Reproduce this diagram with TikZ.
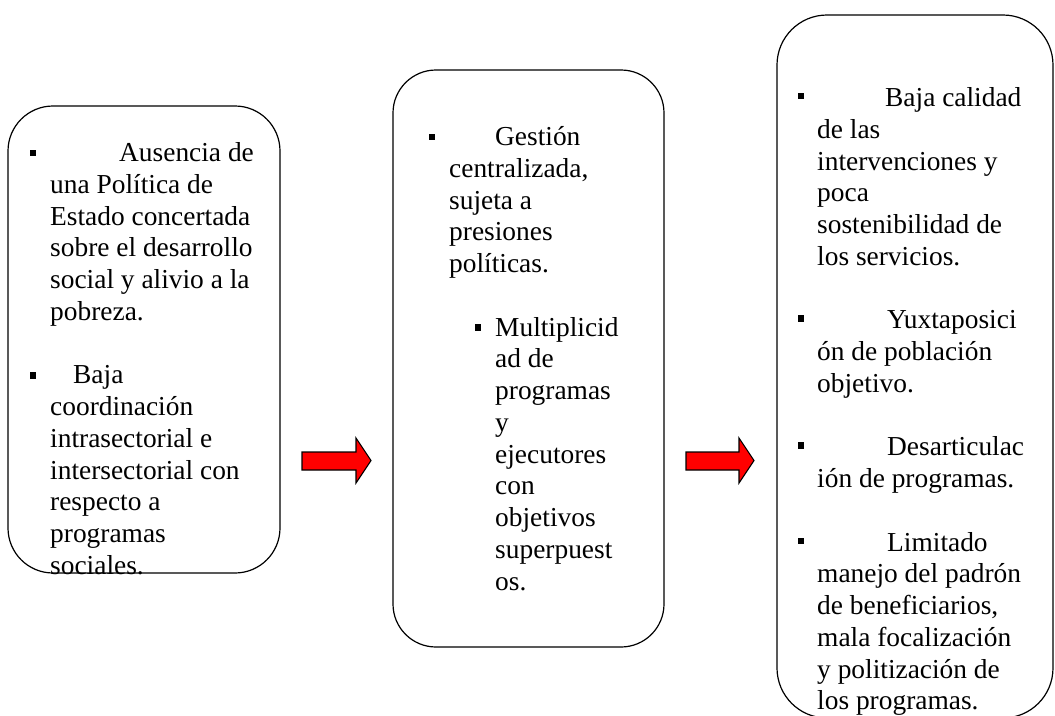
\documentclass[tikz,border=0pt]{standalone}
\usepackage{fontspec}
\setmainfont{Liberation Serif}
\tikzset{
  box/.style={draw, line width=1.2pt, rounded corners=45pt, inner sep=0pt},
  bul/.style={fill=black, inner sep=0pt, minimum size=6.5pt},
  txt/.style={anchor=base west, inner sep=0pt, font=\fontsize{27.4}{31.75}\selectfont},
  blockarrow/.style={draw, line width=1.1pt, fill=red, line join=miter}
}
\begin{document}
\begin{tikzpicture}[x=1pt,y=-1pt]
\useasboundingbox (0,0) rectangle (1055,715);
% boxes
\node[box, minimum width=272pt, minimum height=467pt] (box1) at (144,339.5) {};
\node[box, minimum width=271pt, minimum height=577pt, rounded corners=43pt] (box2) at (528.5,358.5) {};
\node[box, minimum width=276pt, minimum height=703pt, rounded corners=50pt] (box3) at (915,366.5) {};
% block arrows
\draw[blockarrow] (302,452) -- (356,452) -- (356,438) -- (371,460.5) -- (356,483) -- (356,470) -- (302,470) -- cycle;
\draw[blockarrow] (686,452) -- (739,452) -- (739,438) -- (754,460.5) -- (739,483) -- (739,470) -- (686,470) -- cycle;
% box 1 text
\node[bul] (b1a) at (33,153) {};
\node[bul] (b1b) at (33,375.5) {};
\node[txt] (t1) at (50,161.5) {\parbox[t]{260pt}{\raggedright
\hspace*{69pt}Ausencia de\\
una Política de\\
Estado concertada\\
sobre el desarrollo\\
social y alivio a la\\
pobreza.\\
\mbox{}\\
\hspace*{23pt}Baja\\
coordinación\\
intrasectorial e\\
intersectorial con\\
respecto a\\
programas\\
sociales.}};
% box 2 text
\node[bul] (b2a) at (432,137) {};
\node[bul] (b2b) at (478,327.5) {};
\node[txt] (t2a) at (449,145.5) {\parbox[t]{220pt}{\raggedright
\hspace*{46pt}Gestión\\
centralizada,\\
sujeta a\\
presiones\\
políticas.}};
\node[txt] (t2b) at (495,336) {\parbox[t]{160pt}{\raggedright
Multiplicid\\
ad de\\
programas\\
y\\
ejecutores\\
con\\
objetivos\\
superpuest\\
os.}};
% box 3 text
\node[bul] (b3a) at (801,96) {};
\node[bul] (b3b) at (801,318.5) {};
\node[bul] (b3c) at (801,445.5) {};
\node[bul] (b3d) at (801,541) {};
\node[txt] (t3) at (817,106.5) {\parbox[t]{236pt}{\raggedright
\hspace*{68pt}Baja calidad\\
de las\\
intervenciones y\\
poca\\
sostenibilidad de\\
los servicios.\\
\mbox{}\\
\hspace*{70pt}Yuxtaposici\\
ón de población\\
objetivo.\\
\mbox{}\\
\hspace*{70pt}Desarticulac\\
ión de programas.\\
\mbox{}\\
\hspace*{70pt}Limitado\\
manejo del padrón\\
de beneficiarios,\\
mala focalización\\
y politización de\\
los programas.}};
\end{tikzpicture}
\end{document}
